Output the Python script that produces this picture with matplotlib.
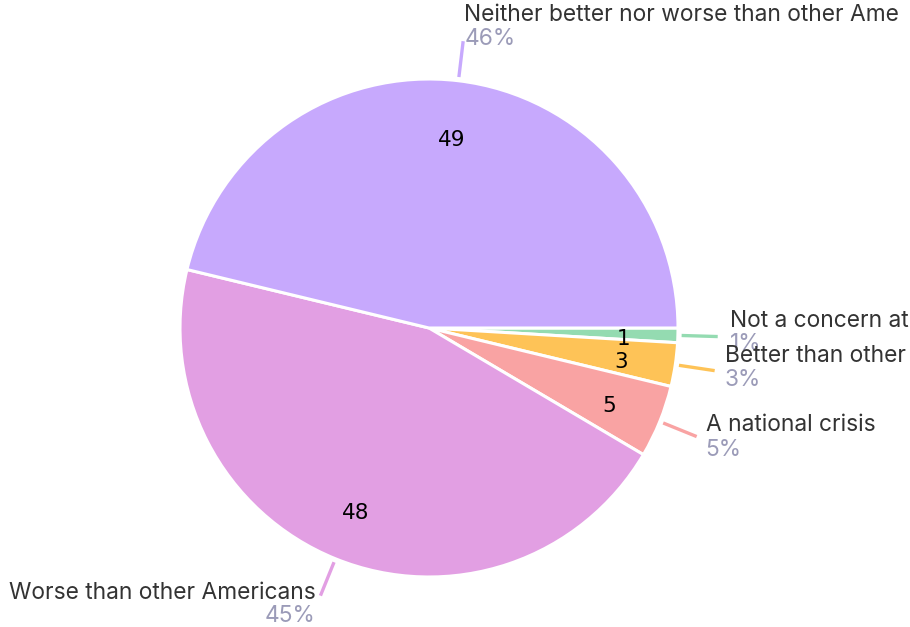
import matplotlib

matplotlib.use("Agg")
import matplotlib.pyplot as plt
import numpy as np

# data, clockwise from 3 o'clock (labels as shown, cut at the right edge)
categories = [
    "Not a concern at",
    "Better than other",
    "A national crisis",
    "Worse than other Americans",
    "Neither better nor worse than other Ame",
]
counts = [1, 3, 5, 48, 49]
colors = ["#94dbb1", "#fec357", "#f9a3a3", "#e29fe3", "#c7a9fd"]

# label placement relative to leader line end (pixels): name dy, pct dy, dx, ha
label_style = [
    (16, -7, 12, "left"),
    (15, -9, 10, "left"),
    (12, -13, 9, "left"),
    (3, -20, -5, "right"),
    (26, 2, 1, "left"),
]

W, H = 910, 627
CX, CY, R = 429, 299, 249
FONT = ["Inter", "DejaVu Sans"]

fig = plt.figure(figsize=(W / 100, H / 100), dpi=100)
ax = fig.add_axes([0, 0, 1, 1])

total = sum(counts)
wedges, texts, autotexts = ax.pie(
    counts,
    colors=colors,
    startangle=0,
    counterclock=False,
    center=(CX, CY),
    radius=R,
    autopct=lambda p: f"{p * total / 100:.0f}",
    pctdistance=0.78,
    wedgeprops=dict(edgecolor="white", linewidth=2.2),
    textprops=dict(fontsize=15.5, color="black", family=["DejaVu Sans"]),
    frame=True,
)
for t in autotexts:
    x, y = t.get_position()
    t.set_position((x, y - 5))
ax.set_xlim(0, W)
ax.set_ylim(0, H)
ax.set_aspect("equal")
ax.axis("off")

for w, name, n, col, (ndy, pdy, dx, ha) in zip(wedges, categories, counts, colors, label_style):
    ang = np.deg2rad((w.theta1 + w.theta2) / 2)
    c, s = np.cos(ang), np.sin(ang)
    x0, y0 = CX + 1.015 * R * c, CY + 1.015 * R * s
    x1, y1 = CX + 1.16 * R * c, CY + 1.16 * R * s
    ax.plot([x0, x1], [y0, y1], color=col, lw=2.4, solid_capstyle="butt")
    ax.text(x1 + dx, y1 + ndy, name, ha=ha, va="center", fontsize=16.4,
            color="#333333", family=FONT)
    ax.text(x1 + dx, y1 + pdy, f"{n / total * 100:.0f}%", ha=ha, va="center",
            fontsize=16.4, color="#9b9bb8", family=FONT)

fig.savefig("out.png", dpi=100)
